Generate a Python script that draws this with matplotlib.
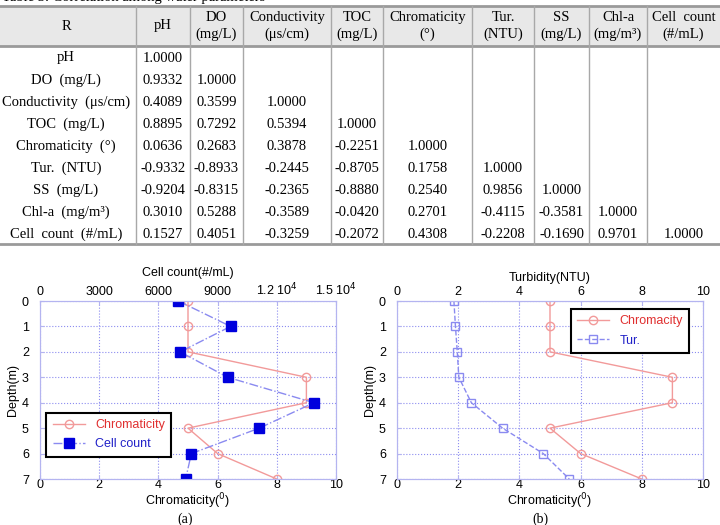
import numpy as np
import matplotlib
matplotlib.use('Agg')
import matplotlib.pyplot as plt
from matplotlib.ticker import FixedLocator, FixedFormatter

plt.rcParams['font.family'] = ['Liberation Sans', 'DejaVu Sans']

# --- table data ---
headers = ['R', 'pH', 'DO\n(mg/L)', 'Conductivity\n(\u03bcs/cm)', 'TOC\n(mg/L)',
           'Chromaticity\n(\u00b0)', 'Tur.\n(NTU)', 'SS\n(mg/L)', 'Chl-a\n(mg/m\u00b3)',
           'Cell  count\n(#/mL)']
row_names = ['pH', 'DO  (mg/L)', 'Conductivity  (\u03bcs/cm)', 'TOC  (mg/L)',
             'Chromaticity  (\u00b0)', 'Tur.  (NTU)', 'SS  (mg/L)',
             'Chl-a  (mg/m\u00b3)', 'Cell  count  (#/mL)']
corr_rows = [
    [1.0000],
    [0.9332, 1.0000],
    [0.4089, 0.3599, 1.0000],
    [0.8895, 0.7292, 0.5394, 1.0000],
    [0.0636, 0.2683, 0.3878, -0.2251, 1.0000],
    [-0.9332, -0.8933, -0.2445, -0.8705, 0.1758, 1.0000],
    [-0.9204, -0.8315, -0.2365, -0.8880, 0.2540, 0.9856, 1.0000],
    [0.3010, 0.5288, -0.3589, -0.0420, 0.2701, -0.4115, -0.3581, 1.0000],
    [0.1527, 0.4051, -0.3259, -0.2072, 0.4308, -0.2208, -0.1690, 0.9701, 1.0000],
]

# --- profile data ---
depth = [0, 1, 2, 3, 4, 5, 6, 7]
chromaticity = [5, 5, 5, 9, 9, 5, 6, 8]
cell_count = [7010, 9660, 7100, 9510, 13880, 11110, 7670, 7380]
turbidity = [1.86, 1.91, 1.97, 2.02, 2.43, 3.45, 4.78, 5.63]

red_line = '#f29a9a'
red_text = '#e03030'
blue_line = '#8a8af0'
blue_mark = '#0000dd'
blue_text = '#2020c8'
frame_col = '#b4b4f0'
grid_col = '#8c8cf0'

fig = plt.figure(figsize=(7.2, 5.25), dpi=100)

# table drawn in pixel coordinates
tab = fig.add_axes([0, 0, 1, 1], zorder=-1)
tab.set_xlim(0, 720)
tab.set_ylim(525, 0)
tab.axis('off')

serif = ['Liberation Serif', 'DejaVu Serif']
col_edges = [0, 136, 190, 243, 331, 383, 472, 534, 589, 647, 720]
col_mid = [(a + b) / 2 for a, b in zip(col_edges[:-1], col_edges[1:])]
col_mid[0] = 66
top, head_bot, bottom = 6, 46, 244

tab.fill_between([0, 720], top, head_bot, color='#e8e8e8', lw=0)
tab.plot([0, 720], [top, top], color='#9a9a9a', lw=2)
tab.plot([0, 720], [head_bot, head_bot], color='#9a9a9a', lw=2)
tab.plot([0, 720], [bottom, bottom], color='#9a9a9a', lw=2)
for xe in col_edges[1:-1]:
    tab.plot([xe, xe], [top, bottom], color='#a8a8a8', lw=1)

for i, h in enumerate(headers):
    tab.text(col_mid[i], 26, h, ha='center', va='center', family=serif,
             fontsize=10.5, linespacing=1.3)
for r, name in enumerate(row_names):
    y = 58 + 22 * r
    tab.text(col_mid[0], y, name, ha='center', va='center', family=serif, fontsize=10.5)
    for c, v in enumerate(corr_rows[r]):
        tab.text(col_mid[c + 1], y, '%.4f' % v, ha='center', va='center',
                 family=serif, fontsize=10.5)

tab.text(2, 1.5, 'Table 3. Correlation among water parameters', ha='left',
         va='baseline', family=serif, fontsize=10.5)


def style_axes(ax, top_ax):
    for a in (ax, top_ax):
        for s in a.spines.values():
            s.set_color(frame_col)
        a.tick_params(direction='in', length=3, color=frame_col, labelsize=9)
    ax.tick_params(axis='x', pad=0)
    ax.tick_params(axis='y', pad=8)
    top_ax.tick_params(axis='x', pad=2)
    ax.set_ylim(7, 0)
    ax.set_xlim(0, 10)
    ax.set_xticks([0, 2, 4, 6, 8, 10])
    ax.set_yticks(depth)
    ax.grid(True, linestyle=':', color=grid_col, lw=0.8)
    ax.set_axisbelow(True)
    ax.set_ylabel('Depth(m)', fontsize=9, labelpad=2)
    ax.set_xlabel('Chromaticity($^0$)', fontsize=9, labelpad=0)


# (a)
axa = fig.add_axes([40 / 720, 46 / 525, 296 / 720, 178 / 525])
axa_t = axa.twiny()
la, = axa.plot(chromaticity, depth, '-o', color=red_line, mfc='none', mec=red_line,
               ms=6, lw=1, label='Chromaticity')
lb, = axa_t.plot(cell_count, depth, '-.s', color=blue_line, mfc=blue_mark,
                 mec=blue_mark, ms=6.5, lw=1, label='Cell count')
axa_t.set_xlim(0, 15000)
axa_t.xaxis.set_major_locator(FixedLocator([0, 3000, 6000, 9000, 12000, 15000]))
axa_t.xaxis.set_major_formatter(FixedFormatter(
    ['0', '3000', '6000', '9000', '1.2 10$^4$', '1.5 10$^4$']))
axa_t.set_xlabel('Cell count(#/mL)', fontsize=9, labelpad=4)
style_axes(axa, axa_t)
leg = axa_t.legend([la, lb], ['Chromaticity', 'Cell count'], loc='lower left',
                   bbox_to_anchor=(0.0, 0.09), fontsize=9, fancybox=False,
                   framealpha=1, edgecolor='black', handlelength=2.6,
                   borderpad=0.5, labelspacing=0.6)
leg.get_frame().set_linewidth(1.5)
for t, c in zip(leg.get_texts(), [red_text, blue_text]):
    t.set_color(c)

# (b)
axb = fig.add_axes([397 / 720, 46 / 525, 306 / 720, 178 / 525])
axb_t = axb.twiny()
lc, = axb.plot(chromaticity, depth, '-o', color=red_line, mfc='none', mec=red_line,
               ms=6, lw=1, label='Chromacity')
ld, = axb_t.plot(turbidity, depth, '--s', color=blue_line, mfc='none', mec=blue_line,
                 ms=6, lw=1, label='Tur.')
axb_t.set_xlim(0, 10)
axb_t.set_xticks([0, 2, 4, 6, 8, 10])
axb_t.set_xlabel('Turbidity(NTU)', fontsize=9, labelpad=4)
style_axes(axb, axb_t)
leg2 = axb_t.legend([lc, ld], ['Chromacity', 'Tur.'], loc='upper right',
                    bbox_to_anchor=(0.975, 0.99), fontsize=9, fancybox=False,
                    framealpha=1, edgecolor='black', handlelength=2.6,
                    borderpad=0.5, labelspacing=0.6)
leg2.get_frame().set_linewidth(1.5)
for t, c in zip(leg2.get_texts(), [red_text, blue_text]):
    t.set_color(c)

fig.text(185 / 720, 1 - 519 / 525, '(a)', ha='center', va='center', family=serif, fontsize=10)
fig.text(540 / 720, 1 - 519 / 525, '(b)', ha='center', va='center', family=serif, fontsize=10)

fig.savefig('out.png', dpi=100)
